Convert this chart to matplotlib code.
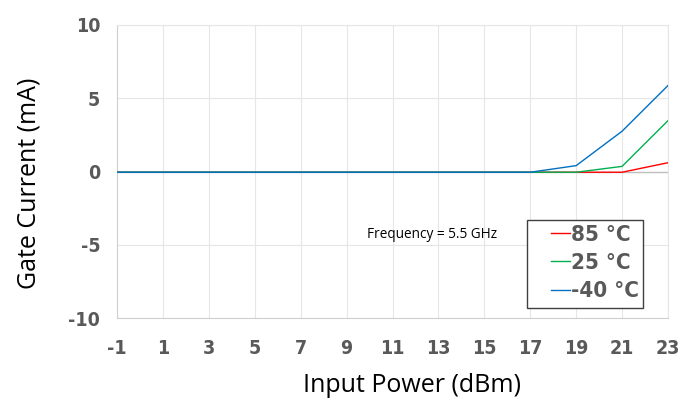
import matplotlib.pyplot as plt
from matplotlib import font_manager
from matplotlib.font_manager import FontProperties
from matplotlib.patches import Rectangle

plt.rcParams["axes.unicode_minus"] = False

# Data
input_power = [-1, 1, 3, 5, 7, 9, 11, 13, 15, 17, 19, 21, 23]
current_85 = [-0.05, -0.05, -0.05, -0.05, -0.05, -0.05, -0.05, -0.05, -0.05, -0.05, -0.05, -0.05, 0.6]
current_25 = [-0.05, -0.05, -0.05, -0.05, -0.05, -0.05, -0.05, -0.05, -0.05, -0.05, -0.05, 0.35, 3.47]
current_m40 = [-0.05, -0.05, -0.05, -0.05, -0.05, -0.05, -0.05, -0.05, -0.05, -0.05, 0.4, 2.75, 5.87]
series_labels = ["85 °C", "25 °C", "-40 °C"]
series_colors = ["#ff0000", "#00b050", "#0070c0"]
y_ticks = [-10, -5, 0, 5, 10]

# look for a narrow bold face (Arial Narrow look), else plain bold
narrow = None
for f in font_manager.fontManager.ttflist:
    low = f.fname.lower()
    if ("narrow" in low or "condensed" in low) and f.weight in ("bold", 700):
        narrow = f.fname
        break


def tick_prop(size):
    if narrow:
        return FontProperties(fname=narrow, size=size)
    return FontProperties(family="Liberation Sans", weight="bold", size=size)


tsize = 14 if narrow else 13
lsize = 16 if narrow else 14

fig = plt.figure(figsize=(6.96, 4.03), dpi=100)
ax = fig.add_axes([117 / 696, 1 - 318 / 403, 551 / 696, 293 / 403])

for vals, lab, col in zip([current_85, current_25, current_m40], series_labels, series_colors):
    ax.plot(input_power, vals, color=col, lw=1.0, label=lab, zorder=3)

ax.set_xlim(-1, 23)
ax.set_ylim(-10, 10)
ax.set_xticks(input_power)
ax.set_yticks(y_ticks)
ax.grid(True, color="#e6e6e6", lw=0.8)
ax.axhline(0, color="#bfbfbf", lw=1.0, zorder=2)
ax.tick_params(length=0, pad=12, labelcolor="#595959")
ax.tick_params(axis="x", pad=15)
for lbl in ax.get_xticklabels() + ax.get_yticklabels():
    lbl.set_fontproperties(tick_prop(tsize))
for side in ["top", "right"]:
    ax.spines[side].set_color("#e6e6e6")
for side in ["left", "bottom"]:
    ax.spines[side].set_color("#d0d0d0")

ax.set_xlabel("Input Power (dBm)", family="Open Sans", fontsize=18, va="center")
ax.xaxis.set_label_coords((412 - 117) / 551, -(385 - 318) / 293)
ax.set_ylabel("Gate Current (mA)", family="Open Sans", fontsize=18, va="center")
ax.yaxis.set_label_coords(-(117 - 29) / 551, (318 - 183) / 293)

ax.text(9.9, -4.3, "Frequency = 5.5 GHz", family="Open Sans", fontsize=9.8, va="center")

# legend box drawn separately so the entries can sit further in
ax.add_patch(Rectangle(((527 - 117) / 551, (318 - 308) / 293), 116 / 551, 88 / 293,
                       transform=ax.transAxes, fill=True, facecolor="white",
                       edgecolor="#404040", lw=1.0, zorder=4))
leg = ax.legend(loc="center left", bbox_to_anchor=((551 - 117) / 551, (318 - 263) / 293),
                prop=tick_prop(lsize), frameon=False,
                handlelength=0.85, handletextpad=0.05, borderpad=0,
                labelspacing=0.38, borderaxespad=0)
leg.set_zorder(5)
for t in leg.get_texts():
    t.set_color("#595959")

fig.savefig("out.png", dpi=100)
